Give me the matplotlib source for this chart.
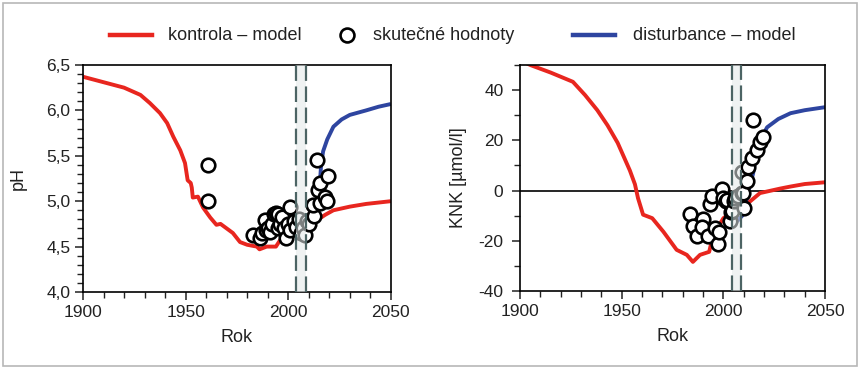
import matplotlib
matplotlib.use('Agg')
import matplotlib.pyplot as plt
from matplotlib.lines import Line2D
from matplotlib.patches import Rectangle
from matplotlib.ticker import MultipleLocator, FuncFormatter

plt.rcParams['font.family'] = ['Liberation Sans', 'DejaVu Sans']
plt.rcParams['axes.unicode_minus'] = False

# --- dati: pH ---
ph_kontrola_rok = [1900, 1910, 1920, 1928, 1932.6, 1937.5, 1941, 1944, 1947.4, 1949.7, 1951,
                   1952.5, 1953, 1953.5, 1956,
                   1958.5, 1962, 1965, 1967, 1970, 1973, 1976.5, 1980, 1984.7, 1986, 1989.5,
                   1994, 1996, 2000, 2005, 2010, 2014, 2018, 2022, 2030, 2038, 2050]
ph_kontrola = [6.37, 6.31, 6.25, 6.17, 6.08, 5.97, 5.86, 5.71, 5.56, 5.42, 5.23,
               5.20, 5.15, 5.04, 5.05,
               4.93, 4.82, 4.74, 4.75, 4.70, 4.65, 4.55, 4.52, 4.50, 4.47, 4.50,
               4.50, 4.57, 4.60, 4.66, 4.73, 4.79, 4.85, 4.90, 4.94, 4.97, 5.00]

ph_disturb_rok = [2015.5, 2016, 2017, 2019, 2022, 2026, 2030, 2038, 2044, 2050]
ph_disturb = [5.22, 5.40, 5.55, 5.68, 5.82, 5.90, 5.95, 6.00, 6.04, 6.07]

ph_obs_rok = [1961, 1961, 1983, 1986, 1987, 1988.5, 1989, 1990, 1991, 1992, 1993, 1994,
              1995, 1995, 1996, 1997, 1998, 1999, 2000, 2001, 2001, 2003, 2004, 2005,
              2006, 2007, 2008, 2009, 2010, 2012.5, 2012, 2014, 2014.5, 2015.5, 2015.5,
              2018, 2019, 2019.5]
ph_obs = [5.40, 5.00, 4.63, 4.60, 4.65, 4.79, 4.68, 4.70, 4.66, 4.75, 4.86, 4.87,
          4.70, 4.86, 4.75, 4.83, 4.70, 4.60, 4.75, 4.68, 4.94, 4.78, 4.72, 4.80,
          4.65, 4.70, 4.63, 4.78, 4.75, 4.84, 4.96, 5.45, 5.12, 5.20, 4.98,
          5.05, 5.00, 5.28]

# --- dati: KNK ---
knk_kontrola_rok = [1900, 1905, 1915, 1926, 1932, 1938, 1943, 1948, 1954, 1956.5, 1958, 1960.5,
                    1965, 1970.5, 1977, 1982, 1985, 1988.5, 1993, 1995, 2000, 2005, 2010,
                    2013, 2018, 2028, 2033, 2040, 2050]
knk_kontrola = [52, 50, 47, 43.3, 38, 32, 26, 19, 8, 2.5, -3, -9.6,
                -11, -16.4, -23.6, -25.6, -28.4, -25.6, -24.4, -17.6, -11, -8, -5.5,
                -4.4, -1.0, 0.8, 1.6, 2.6, 3.3]

knk_disturb_rok = [2005, 2007, 2009.7, 2011.5, 2013, 2014.6, 2016, 2018, 2021.5, 2027, 2033, 2040, 2050]
knk_disturb = [-13, -12, -9.6, -2.8, 2, 6.8, 14, 20, 25.2, 28.5, 30.8, 32, 33.2]

knk_obs_rok = [1983.6, 1985, 1987, 1990, 1989.5, 1992.5, 1993.5, 1994.5, 1996, 1997.5,
               1998, 1999.5, 2000, 2001.5, 2002, 2003, 2003.5, 2004, 2005, 2005.5, 2007,
               2009, 2009, 2009.5, 2010, 2011.5, 2012, 2014, 2014.6, 2016.6, 2018, 2019.5]
knk_obs = [-9.2, -14, -18, -11.2, -14.4, -18, -5.2, -2, -14.8, -21.2,
           -16.4, 0.8, -3, -4, -3.6, -12, -8.4, -8, -4, -2.8, -2,
           7.2, -0.8, -0.8, -6.8, 4, 9.2, 12.8, 28, 16, 19.2, 21.2]

obdobi = (2004, 2008.5)

CERVENA = '#e8261f'
MODRA = '#2e45a0'
CARKY = '#4c6464'
PAS = '#e2e8e8'
TEXT = '#222222'

fig = plt.figure(figsize=(8.6, 3.68), dpi=100)
ax1 = fig.add_axes([0.0965, 0.2065, 0.358, 0.617])
ax2 = fig.add_axes([0.6047, 0.2092, 0.3547, 0.6142])


def priprav(ax, xs_k, ys_k, xs_d, ys_d, xs_o, ys_o):
    ax.plot(xs_k, ys_k, color=CERVENA, lw=2.8, zorder=2, solid_capstyle='butt')
    ax.plot(xs_d, ys_d, color=MODRA, lw=2.8, zorder=2, solid_capstyle='butt')
    ax.scatter(xs_o, ys_o, s=95, facecolor='white', edgecolor='black', lw=1.9, zorder=3)
    ax.axvspan(*obdobi, color=PAS, alpha=0.55, lw=0, zorder=4)
    for x in obdobi:
        ax.axvline(x, color=CARKY, lw=1.6, ls=(0, (7, 2.5)), zorder=5)
    ax.set_xlim(1900, 2050)
    ax.xaxis.set_major_locator(MultipleLocator(50))
    ax.xaxis.set_minor_locator(MultipleLocator(10))
    ax.tick_params(which='major', direction='out', length=6, width=1.1, labelsize=12.5,
                   colors=TEXT, pad=3)
    ax.tick_params(which='minor', direction='out', length=4, width=1.0, colors=TEXT)
    for sp in ax.spines.values():
        sp.set_linewidth(1.2)
    ax.set_xlabel('Rok', fontsize=13, color=TEXT, labelpad=7)


priprav(ax1, ph_kontrola_rok, ph_kontrola, ph_disturb_rok, ph_disturb, ph_obs_rok, ph_obs)
ax1.set_ylim(4.0, 6.5)
ax1.yaxis.set_major_locator(MultipleLocator(0.5))
ax1.yaxis.set_minor_locator(MultipleLocator(0.1))
ax1.yaxis.set_major_formatter(FuncFormatter(lambda v, p: f'{v:.1f}'.replace('.', ',')))
ax1.set_ylabel('pH', fontsize=13, color=TEXT, labelpad=14)

priprav(ax2, knk_kontrola_rok, knk_kontrola, knk_disturb_rok, knk_disturb, knk_obs_rok, knk_obs)
ax2.axhline(0, color='black', lw=1.2, zorder=1)
ax2.set_ylim(-40, 50)
ax2.set_yticks([-40, -20, 0, 20, 40])
ax2.yaxis.set_minor_locator(MultipleLocator(10))
ax2.tick_params(axis='y', which='major', pad=6)
ax2.set_ylabel('KNK [µmol/l]', fontsize=13, color=TEXT, labelpad=8)

# legenda nahore
ly = 1 - 35 / 368
fig.add_artist(Line2D([0.128, 0.177], [ly, ly], transform=fig.transFigure, color=CERVENA, lw=3.2))
fig.text(0.195, ly, 'kontrola – model', fontsize=13, va='center', color=TEXT)
fig.add_artist(Line2D([0.4035], [ly], transform=fig.transFigure, marker='o', ms=10,
                      mfc='white', mec='black', mew=1.9, ls='none'))
fig.text(0.434, ly, 'skutečné hodnoty', fontsize=13, va='center', color=TEXT)
fig.add_artist(Line2D([0.666, 0.715], [ly, ly], transform=fig.transFigure, color=MODRA, lw=3.2))
fig.text(0.736, ly, 'disturbance – model', fontsize=13, va='center', color=TEXT)

# ramecek kolem obrazku
fig.add_artist(Rectangle((0.0035, 0.0054), 0.993, 0.986, transform=fig.transFigure,
                         fill=False, ec='#b8b8b8', lw=1.2))

fig.savefig('out.png', dpi=100)
